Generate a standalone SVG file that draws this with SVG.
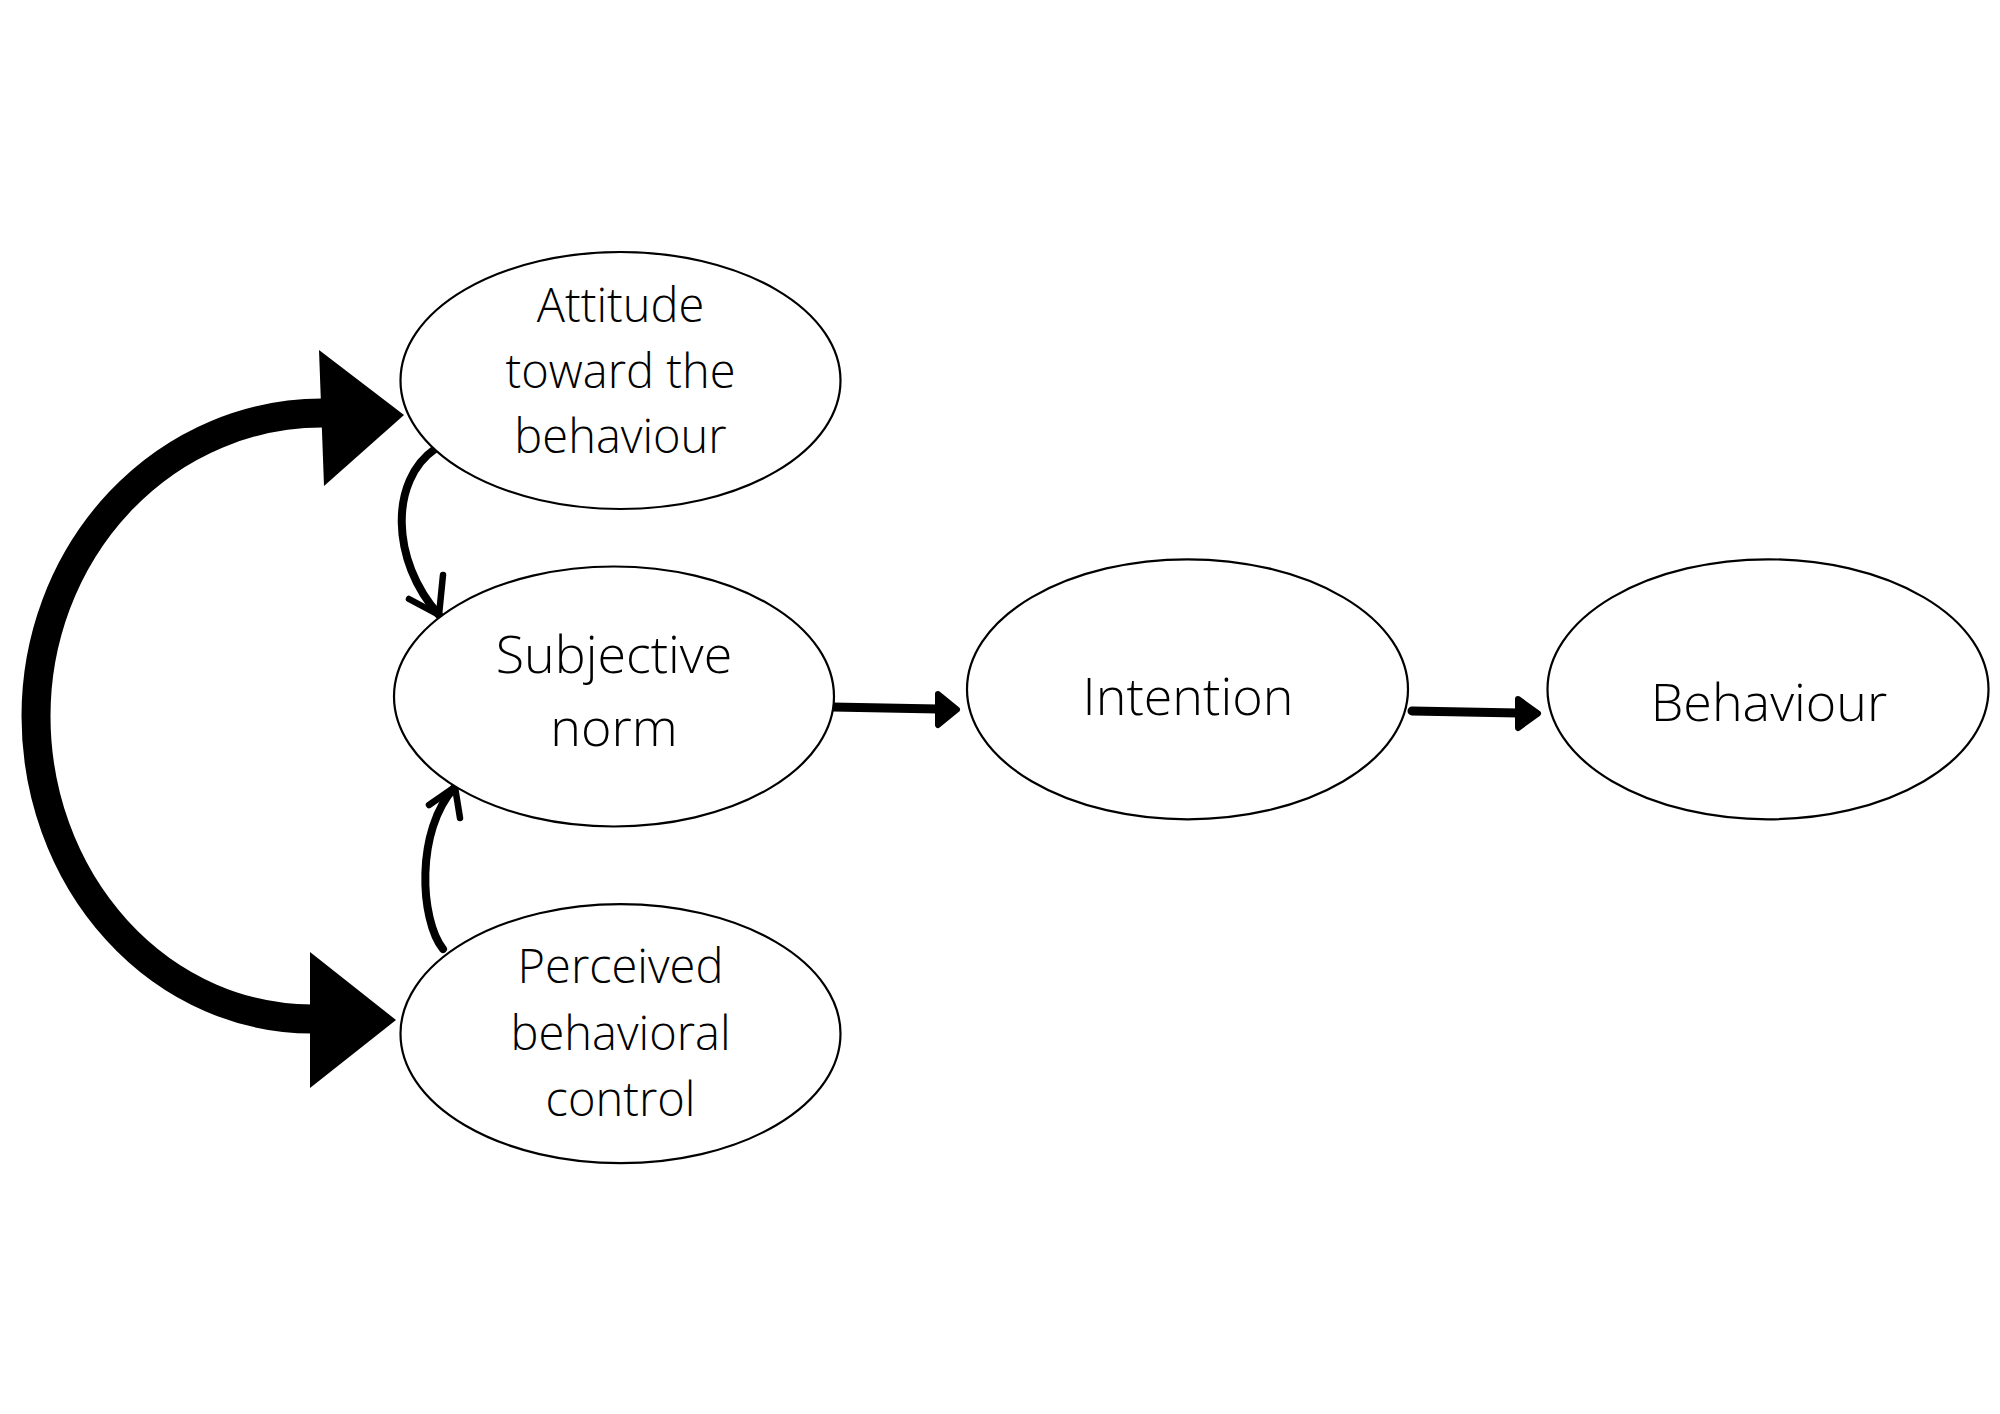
<svg xmlns="http://www.w3.org/2000/svg" width="2000" height="1414" viewBox="0 0 2000 1414">
  <style>
    .node ellipse { fill: #ffffff; stroke: #000000; stroke-width: 2.2; }
    .node text { font-family: "Open Sans", "Noto Sans", "DejaVu Sans", sans-serif; font-weight: 300; fill: #000000; text-anchor: middle; }
    .small { font-size: 47px; }
    .big { font-size: 52px; }
    .curve { fill: none; stroke: #000000; stroke-width: 8; stroke-linecap: round; stroke-linejoin: round; }
    .chev { fill: none; stroke: #000000; stroke-width: 6.5; stroke-linecap: round; stroke-linejoin: round; }
    .line { fill: none; stroke: #000000; stroke-width: 9; stroke-linecap: round; }
    .head { fill: #000000; stroke: #000000; stroke-width: 6; stroke-linejoin: round; }
    .bigarc { fill: none; stroke: #000000; stroke-width: 29; }
    .bighead { fill: #000000; }
  </style>
  <rect x="0" y="0" width="2000" height="1414" fill="#ffffff"/>

  <g id="connectors">
    <path class="bigarc" d="M 322 413 A 286 303 0 0 0 36 716 A 276 303 0 0 0 312 1019"/>
    <polygon class="bighead" points="319,350 324,486 404,415"/>
    <polygon class="bighead" points="310,952 310,1088 396,1020"/>

    <path class="curve" d="M 435 449 C 390 480, 390 560, 439 615"/>
    <polyline class="chev" points="409,599 439,615 443,575"/>

    <path class="curve" d="M 443 949 C 420 920, 415 830, 455 787"/>
    <polyline class="chev" points="429,805 455,787 460,818"/>

    <line class="line" x1="832" y1="707" x2="938" y2="709"/>
    <polygon class="head" points="938,694 957,709.5 938,725"/>

    <line class="line" x1="1412" y1="711" x2="1518" y2="713"/>
    <polygon class="head" points="1518,699 1538,713.5 1518,728"/>
  </g>

  <g id="attitude" class="node">
    <ellipse cx="620.5" cy="380.5" rx="220" ry="128.5"/>
    <text class="small" x="620.5" y="322.3">Attitude</text>
    <text class="small" x="620.5" y="387.7">toward the</text>
    <text class="small" x="620.5" y="453.3">behaviour</text>
  </g>

  <g id="subjective-norm" class="node">
    <ellipse cx="614" cy="696.5" rx="220" ry="130"/>
    <text class="big" x="614" y="672.7">Subjective</text>
    <text class="big" x="614" y="745.7">norm</text>
  </g>

  <g id="perceived" class="node">
    <ellipse cx="620.5" cy="1033.7" rx="220" ry="129.5"/>
    <text class="small" x="620.5" y="983.3">Perceived</text>
    <text class="small" x="620.5" y="1050">behavioral</text>
    <text class="small" x="620.5" y="1116">control</text>
  </g>

  <g id="intention" class="node">
    <ellipse cx="1187.5" cy="689.3" rx="220.5" ry="130"/>
    <text class="big" x="1188" y="715">Intention</text>
  </g>

  <g id="behaviour" class="node">
    <ellipse cx="1768" cy="689.3" rx="220.5" ry="130"/>
    <text class="big" x="1769" y="720.7">Behaviour</text>
  </g>
</svg>
